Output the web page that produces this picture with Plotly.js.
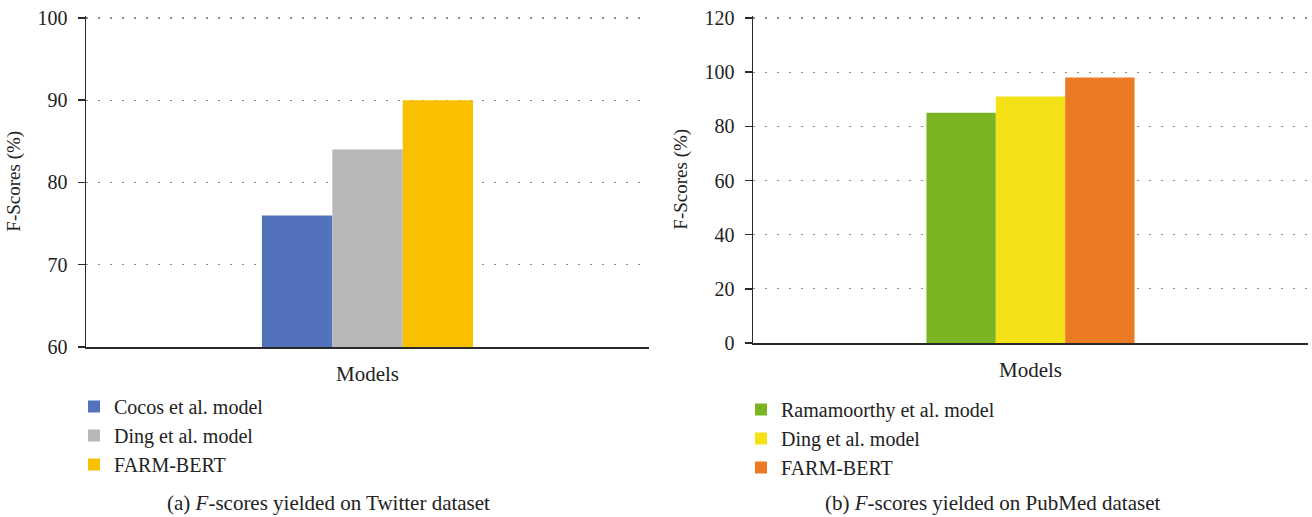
<!DOCTYPE html>
<html>
<head>
<meta charset="utf-8">
<script src="https://cdn.plot.ly/plotly-3.0.1.min.js"></script>
<style>html,body{margin:0;padding:0;background:#fff;}#chart{width:1312px;height:517px;}</style>
</head>
<body>
<div id="chart"></div>
<script>
// ---- data ----
const categories = ["Models"];
const twitterModels = ["Cocos et al. model", "Ding et al. model", "FARM-BERT"];
const twitterScores = [76, 84, 90];
const pubmedModels = ["Ramamoorthy et al. model", "Ding et al. model", "FARM-BERT"];
const pubmedScores = [85, 91, 98];
const twitterTicks = [60, 70, 80, 90, 100];
const pubmedTicks = [0, 20, 40, 60, 80, 100, 120];
const twitterColors = ["#5273BB", "#B7B7B7", "#F9C000"];
const pubmedColors = ["#7AB423", "#F4E216", "#EC7A24"];
const captionA = "(a) <i>F</i>-scores yielded on Twitter dataset";
const captionB = "(b) <i>F</i>-scores yielded on PubMed dataset";
const yTitle = "F-Scores (%)";

const serif = "Liberation Serif";
const traces = [];
twitterModels.forEach((name, i) => {
  traces.push({type: "bar", name: name, x: categories, y: [twitterScores[i]],
    marker: {color: twitterColors[i]}, xaxis: "x", yaxis: "y", legend: "legend", hoverinfo: "y+name"});
});
pubmedModels.forEach((name, i) => {
  traces.push({type: "bar", name: name, x: categories, y: [pubmedScores[i]],
    marker: {color: pubmedColors[i]}, xaxis: "x2", yaxis: "y2", legend: "legend2", hoverinfo: "y+name"});
});

const H = 517, W = 1312;
const py = v => (H - v) / H;
const px = v => v / W;

const yCommon = {
  showline: true, linecolor: "#2a2a2a", linewidth: 1.5,
  ticks: "outside", ticklen: 7, tickwidth: 1.5, tickcolor: "#2a2a2a",
  showgrid: true, gridcolor: "#8a8a8a", gridwidth: 1.3, griddash: "1.5px,10.5px",
  zeroline: false, tickfont: {family: serif, size: 20, color: "#222"},
  ticklabelstandoff: 6, fixedrange: true,
  title: {text: yTitle, font: {family: serif, size: 19, color: "#222"}, standoff: 12}
};
const xCommon = {
  showline: true, linecolor: "#2a2a2a", linewidth: 1.5, ticks: "",
  showgrid: false, zeroline: false, fixedrange: true,
  tickfont: {family: serif, size: 21, color: "#222"}, ticklabelstandoff: 7
};

const layout = {
  width: W, height: H,
  margin: {l: 0, r: 0, t: 0, b: 0},
  paper_bgcolor: "#fff", plot_bgcolor: "rgba(0,0,0,0)",
  font: {family: serif},
  barmode: "group", bargap: 0.625, bargroupgap: 0,
  showlegend: true,
  xaxis: Object.assign({}, xCommon, {domain: [px(86), px(649)], anchor: "y"}),
  yaxis: Object.assign({}, yCommon, {domain: [py(347), py(15.5)], range: [60, 100.3], tickvals: twitterTicks, anchor: "x"}),
  xaxis2: Object.assign({}, xCommon, {domain: [px(753), px(1308)], anchor: "y2"}),
  yaxis2: Object.assign({}, yCommon, {domain: [py(343), py(15.5)], range: [0, 120.92], tickvals: pubmedTicks, anchor: "x2"}),
  legend: {x: px(74), y: py(387), xanchor: "left", yanchor: "top", bgcolor: "rgba(0,0,0,0)",
    font: {family: serif, size: 20, color: "#222"}, traceorder: "normal"},
  legend2: {x: px(741), y: py(390), xanchor: "left", yanchor: "top", bgcolor: "rgba(0,0,0,0)",
    font: {family: serif, size: 20, color: "#222"}, traceorder: "normal"},
  annotations: [
    {text: captionA, xref: "paper", yref: "paper", x: px(329), y: 0, xanchor: "center", yanchor: "bottom",
      showarrow: false, font: {family: serif, size: 21, color: "#222"}},
    {text: captionB, xref: "paper", yref: "paper", x: px(993), y: 0, xanchor: "center", yanchor: "bottom",
      showarrow: false, font: {family: serif, size: 21, color: "#222"}}
  ]
};

Plotly.newPlot("chart", traces, layout, {displayModeBar: false, staticPlot: true});
</script>
</body>
</html>
